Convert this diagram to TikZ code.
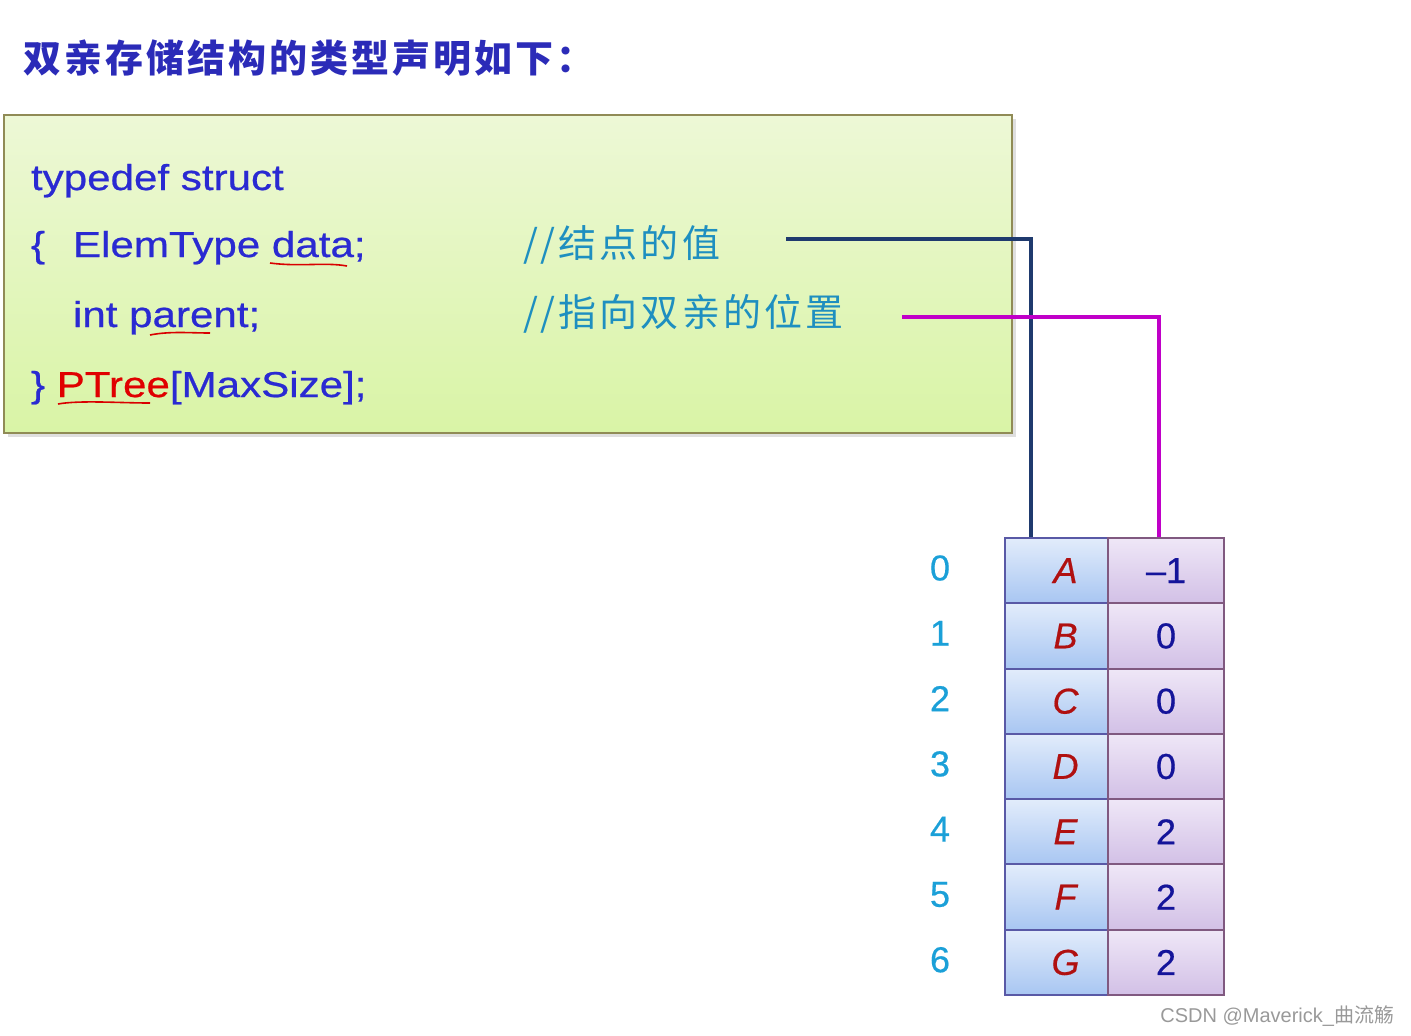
\documentclass[tikz,border=0pt]{standalone}
\usepackage{fontspec}
\setmainfont{Liberation Sans}
\newfontfamily\codefont[FakeStretch=1.17,FakeBold=0.6]{Liberation Sans}
\newfontfamily\cellfont[FakeBold=0.5]{Liberation Sans}
\newfontfamily\cjk{Noto Sans CJK SC}
\newfontfamily\cjkwide[LetterSpace=8]{Noto Sans CJK SC}
\usetikzlibrary{positioning,shadows}

\definecolor{titleblue}{HTML}{2B2BB8}
\definecolor{codeblue}{HTML}{2A2AD2}
\definecolor{codered}{HTML}{E00000}
\definecolor{cmtblue}{HTML}{1E8FC0}
\definecolor{idxblue}{HTML}{1BA0D8}
\definecolor{letterred}{HTML}{B01010}
\definecolor{numblue}{HTML}{14149A}
\definecolor{navyline}{HTML}{1F3A6E}
\definecolor{magline}{HTML}{C000C8}
\definecolor{boxtop}{HTML}{EDF8D6}
\definecolor{boxbottom}{HTML}{D9F4A6}
\definecolor{datatop}{HTML}{E2ECFB}
\definecolor{databottom}{HTML}{A8C6F2}
\definecolor{partop}{HTML}{EFE7F7}
\definecolor{parbottom}{HTML}{D2C0E6}

\begin{document}
\begin{tikzpicture}[x=0.5pt, y=-0.5pt, line width=1pt]

		\useasboundingbox (0,0) rectangle (1411,1035); %画面の大きさ
		\tikzset {
			codetext/.style= {
				anchor=base west, inner sep=0pt, text=codeblue,
				font=\codefont\fontsize{18}{18}\selectfont
			},		%コードの文字
			cmttext/.style= {
				anchor=west, inner sep=0pt, text=cmtblue,
				font=\cjkwide\fontsize{19}{19}\selectfont
			},		%注釈の文字
			datacell/.style= {
				draw=blue!30!gray, top color=datatop, bottom color=databottom,
				minimum width=51.5pt, minimum height=32.65pt, inner sep=0pt,
				text=letterred, font=\cellfont\fontsize{18}{18}\selectfont\itshape
			},
			parentcell/.style= {
				draw=violet!30!gray, top color=partop, bottom color=parbottom,
				minimum width=58pt, minimum height=32.65pt, inner sep=0pt,
				text=numblue, font=\cellfont\fontsize{18}{18}\selectfont
			},
			idxtext/.style= {
				text=idxblue, inner sep=0pt, font=\cellfont\fontsize{18}{18}\selectfont
			},
			redmark/.style= { draw=red!85!black, line width=0.8pt },
			link/.style= { line width=2pt }
		};

		%見出し
		\node[anchor=west, inner sep=0pt, text=titleblue,
			font=\cjkwide\bfseries\fontsize{19}{19}\selectfont]
			(title) at (22,58) {双亲存储结构的类型声明如下：};

		%コードの枠
		\node[draw=olive!40!gray, top color=boxtop, bottom color=boxbottom,
			drop shadow={shadow xshift=2pt, shadow yshift=-2pt, opacity=0.25},
			minimum width=504pt, minimum height=159pt, inner sep=0pt]
			(codebox) at (508,274) {};

		%コード
		\node[codetext] (line1) at (30,190) {typedef struct};
		\node[codetext] (lbrace) at (30,257) {\{};
		\node[codetext] (line2) at (72,257) {ElemType data;};
		\node[codetext] (line3) at (72,327) {int parent;};
		\node[codetext] (line4) at (30,397) {\} \textcolor{codered}{PTree}[MaxSize];};

		%赤い下線
		\draw[redmark] (270,263) .. controls (300,267) and (325,262) .. (347,266);
		\draw[redmark] (150,335) .. controls (170,331) and (190,333) .. (210,333);
		\draw[redmark] (58,404) .. controls (80,400) and (120,403) .. (150,403);

		%注釈
		\node[cmttext] (cmtdata) at (522,245) {//结点的值};
		\node[cmttext] (cmtparent) at (522,314) {//指向双亲的位置};

		%ループで表を書く
		\foreach
			\idx/\elem/\parentval in {
				0/A/{\textendash1}, 1/B/0, 2/C/0, 3/D/0, 4/E/2, 5/F/2, 6/G/2 } {
			\pgfmathsetmacro\rowy{568+65.3*\idx}
			\node[datacell] (d\elem) at (1056.5,570.6+65.3*\idx) {\hspace{9pt}\elem};	%data の欄
			\node[parentcell] (p\elem) at (1166,570.6+65.3*\idx) {\parentval};	%parent の欄
			\node[idxtext] (idx\idx) at (940,\rowy) {\idx};		%添字
		}

		%注釈から表への線
		\coordinate (datastart) at (786,239);
		\coordinate (parentstart) at (902,317);
		\draw[link, draw=navyline] (datastart) -| ([xshift=-13pt]dA.north);
		\draw[link, draw=magline, line width=1.6pt] (parentstart) -| ([xshift=-3.5pt]pA.north);

		%透かし
		\node[anchor=east, inner sep=0pt, text=gray!80,
			font=\fontsize{10}{10}\selectfont]
			(mark) at (1395,1016) {CSDN @Maverick\_{\cjk 曲流觞}};

	\end{tikzpicture}
\end{document}
